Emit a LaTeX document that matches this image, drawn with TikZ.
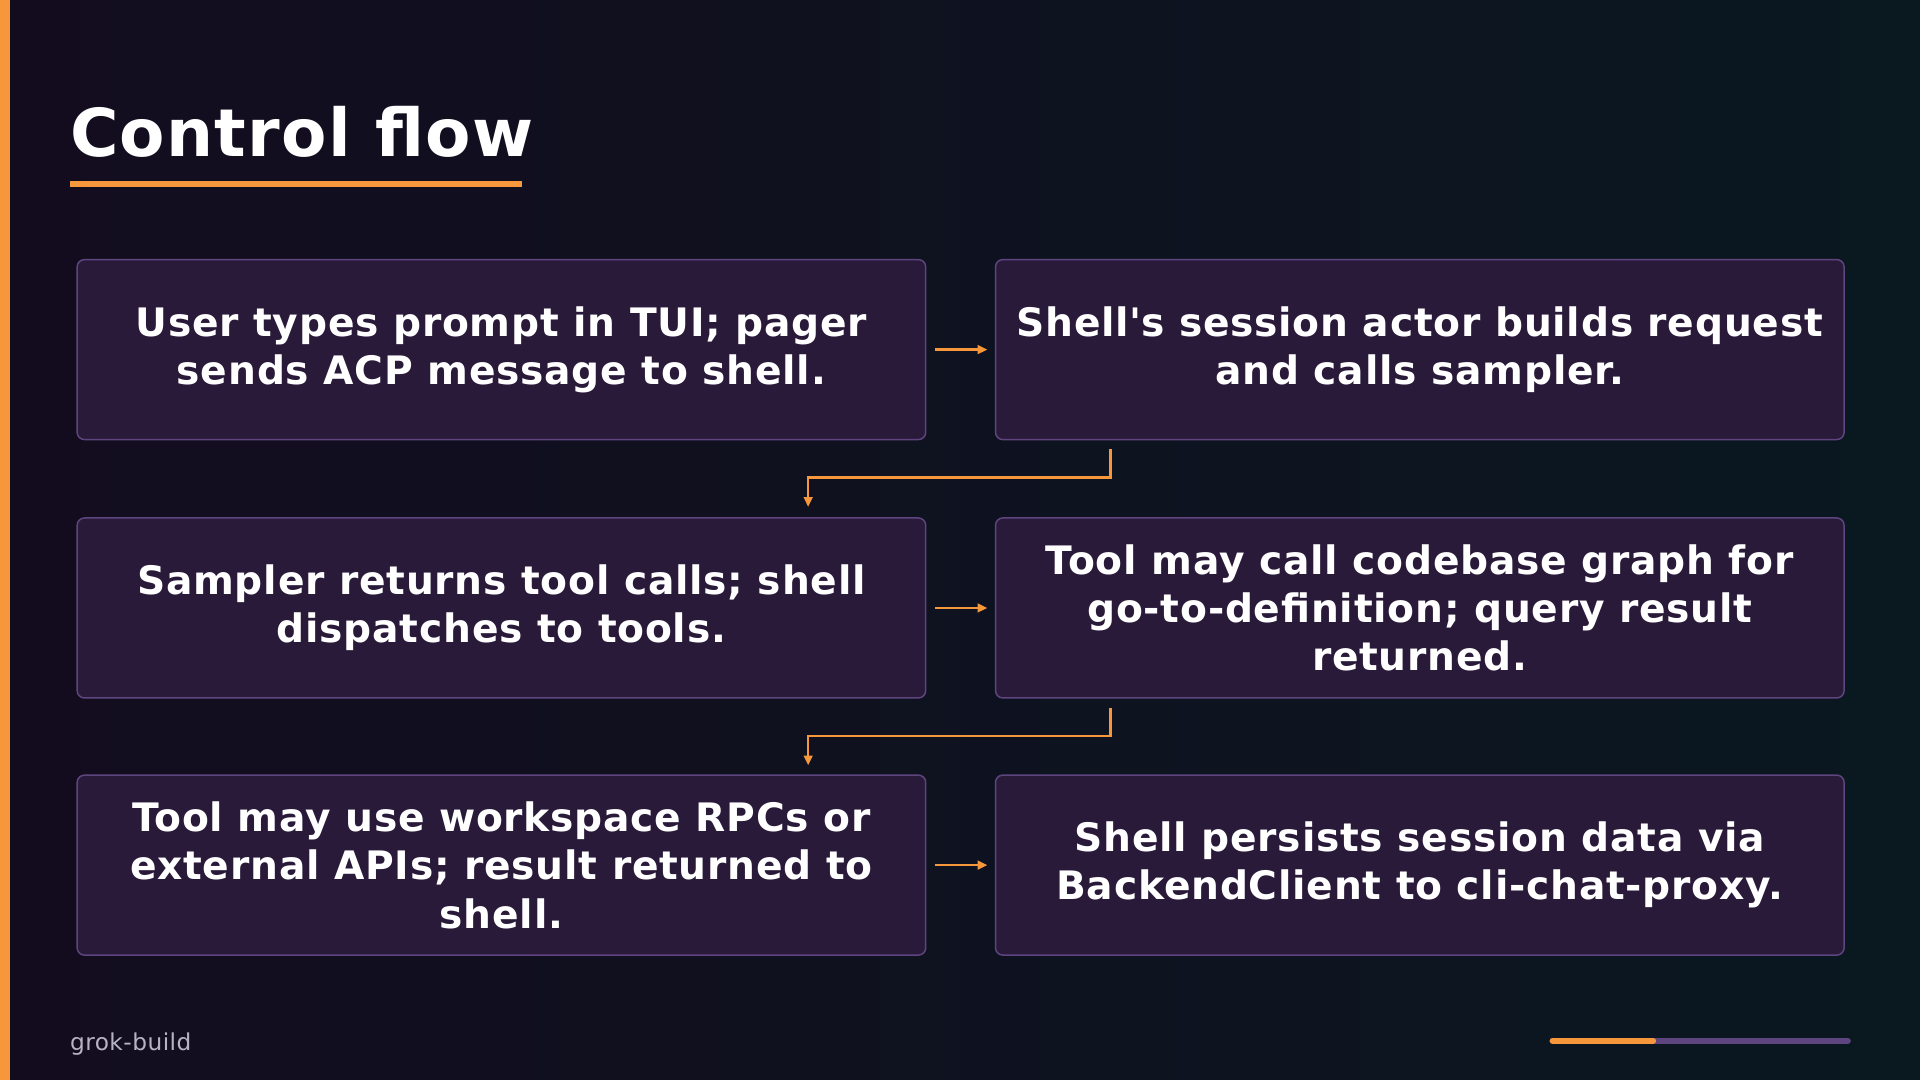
\documentclass[tikz,border=0pt]{standalone}
\usepackage{fontspec}
\setmainfont{DejaVu Sans}[LetterSpace=2]
\usetikzlibrary{arrows.meta}
\definecolor{bgA}{HTML}{130C1F}
\definecolor{bgB}{HTML}{0A1820}
\definecolor{boxf}{HTML}{2A1A3A}
\definecolor{boxd}{HTML}{5E4580}
\definecolor{org}{HTML}{F5973A}
\definecolor{foot}{HTML}{B8B2C6}
\begin{document}
\begin{tikzpicture}[x=1pt,y=-1pt,
 box/.style={draw=boxd,line width=1.2pt,fill=boxf,rounded corners=6pt,minimum width=693pt,minimum height=147pt,align=center,text=white,font=\fontsize{32}{39.5}\selectfont\bfseries,inner sep=0pt},
 arr/.style={draw=org,line width=2pt,-{Triangle[length=8pt,width=7pt]}}]
\shade[left color=bgA,right color=bgB] (0,0) rectangle (1568,882);
\useasboundingbox (0,0) rectangle (1568,882);
\fill[org] (0,0) rectangle (8,882);
\node[anchor=base west,text=white,font=\fontsize{54}{60}\selectfont\bfseries,inner sep=0] (title) at (57,128) {Control flow};
\fill[org] (57,148) rectangle (426,153);
\node[box] (b1) at (409.5,285.5) {User types prompt in TUI; pager\\sends ACP message to shell.};
\node[box] (b2) at (1159.5,285.5) {Shell\textquotesingle s session actor builds request\\and calls sampler.};
\node[box] (b3) at (409.5,496.5) {Sampler returns tool calls; shell\\dispatches to tools.};
\node[box] (b4) at (1159.5,496.5) {Tool may call codebase graph for\\go-to-definition; query result\\returned.};
\node[box] (b5) at (409.5,706.5) {Tool may use workspace RPCs or\\external APIs; result returned to\\shell.};
\node[box] (b6) at (1159.5,706.5) {Shell persists session data via\\BackendClient to cli-chat-proxy.};
\draw[arr] ([xshift=7pt]b1.east) -- ([xshift=-6pt]b2.west);
\draw[arr] ([xshift=7pt]b3.east) -- ([xshift=-6pt]b4.west);
\draw[arr] ([xshift=7pt]b5.east) -- ([xshift=-6pt]b6.west);
\draw[arr] (907,367) -- (907,390) -- (660,390) -- (660,414);
\draw[arr] (907,578) -- (907,601) -- (660,601) -- (660,625);
\node[anchor=base west,text=foot,font=\fontsize{19}{22}\selectfont,inner sep=0] (ft) at (57,858) {grok-build};
\draw[line width=5pt,line cap=round,boxd] (1268,850) -- (1509,850);
\draw[line width=5pt,line cap=round,org] (1268,850) -- (1350,850);
\end{tikzpicture}
\end{document}
